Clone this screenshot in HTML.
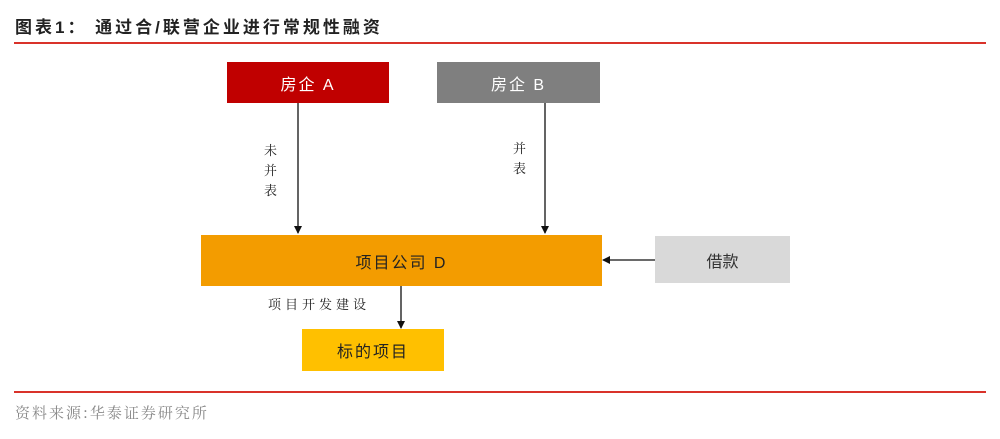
<!DOCTYPE html>
<html><head><meta charset="utf-8"><style>
body{margin:0;width:1000px;height:439px;background:#fff;position:relative;overflow:hidden;font-family:"Liberation Sans","Noto Sans CJK SC",sans-serif}
.a{position:absolute}
.box{position:absolute;display:flex;align-items:center;justify-content:center;font-size:16px}
.lbl{position:absolute;font-size:13px;color:#222;font-family:"Noto Serif CJK SC","Noto Sans CJK SC",serif;line-height:20px}
</style></head><body>
<div class="a" style="left:15px;top:13px;font-size:17px;font-weight:bold;color:#222;letter-spacing:3px">图表1：&nbsp;通过合/联营企业进行常规性融资</div>
<div class="a" style="left:14px;top:42px;width:972px;height:2px;background:#d9322a"></div>
<div class="box" style="left:227px;top:62px;width:162px;height:41px;background:#c00000;color:#fff;letter-spacing:2px">房企 A</div>
<div class="box" style="left:437px;top:62px;width:163px;height:41px;background:#7f7f7f;color:#fff;letter-spacing:2px">房企 B</div>
<div class="box" style="left:201px;top:235px;width:401px;height:51px;background:#f39c00;color:#222;letter-spacing:2px">项目公司 D</div>
<div class="box" style="left:655px;top:236px;width:135px;height:47px;background:#d9d9d9;color:#333">借款</div>
<div class="box" style="left:302px;top:329px;width:142px;height:42px;background:#ffc000;color:#222;letter-spacing:2px">标的项目</div>
<svg class="a" style="left:0;top:0" width="1000" height="439">
<defs><marker id="m" markerWidth="8" markerHeight="8" refX="7" refY="4" orient="auto" markerUnits="userSpaceOnUse"><path d="M0,0 L8,4 L0,8z" fill="#111"/></marker></defs>
<g stroke="#111" stroke-width="1.3">
<line x1="298" y1="103" x2="298" y2="233" marker-end="url(#m)"/>
<line x1="545" y1="103" x2="545" y2="233" marker-end="url(#m)"/>
<line x1="401" y1="286" x2="401" y2="328" marker-end="url(#m)"/>
<line x1="655" y1="260" x2="603" y2="260" marker-end="url(#m)"/>
</g></svg>
<div class="lbl" style="left:264px;top:140px;width:14px">未<br>并<br>表</div>
<div class="lbl" style="left:513px;top:138px;width:14px">并<br>表</div>
<div class="lbl" style="left:268px;top:294px;letter-spacing:4px">项目开发建设</div>
<div class="a" style="left:14px;top:391px;width:972px;height:2px;background:#d9322a"></div>
<div class="a" style="left:15px;top:402px;font-size:15px;letter-spacing:2px;color:#888;font-family:'Noto Serif CJK SC','Noto Sans CJK SC',serif">资料来源:华泰证券研究所</div>
</body></html>
